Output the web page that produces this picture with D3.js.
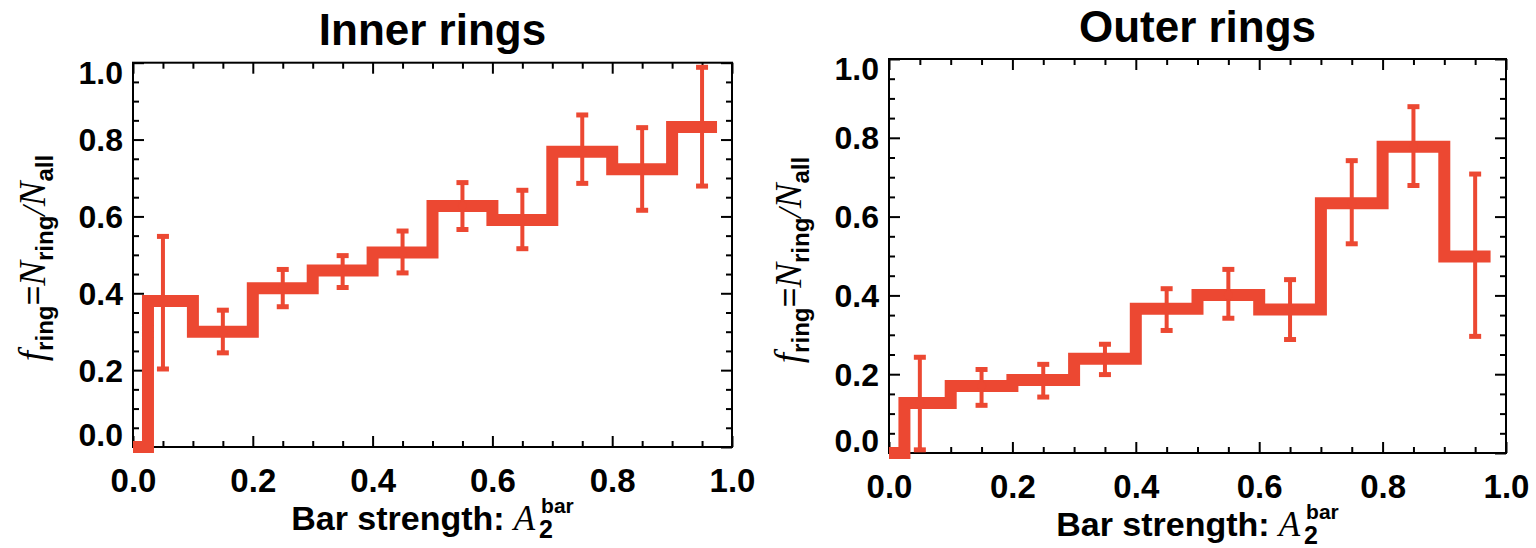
<!DOCTYPE html>
<html><head><meta charset="utf-8">
<script src="https://cdn.jsdelivr.net/npm/d3@7"></script>
<style>body{margin:0;background:#fff}</style>
</head><body>
<svg id="c" width="1536" height="548"></svg>
<script>
// ---- data ----
const stepEdges = [0, 0.025, 0.1, 0.2, 0.3, 0.4, 0.5, 0.6, 0.7, 0.8, 0.9, 0.975];
const binCenters = [0.05, 0.15, 0.25, 0.35, 0.45, 0.55, 0.65, 0.75, 0.85, 0.95];
const innerValues = [0, 0.38, 0.30, 0.413, 0.459, 0.506, 0.627, 0.591, 0.768, 0.723, 0.833];
const innerErrLow = [0.203, 0.245, 0.365, 0.415, 0.453, 0.566, 0.516, 0.686, 0.616, 0.679];
const innerErrHigh = [0.548, 0.356, 0.462, 0.498, 0.562, 0.688, 0.668, 0.864, 0.831, 0.988];
const outerValues = [0, 0.127, 0.17, 0.185, 0.239, 0.366, 0.401, 0.364, 0.634, 0.777, 0.499];
const outerErrLow = [0.008, 0.121, 0.142, 0.199, 0.311, 0.342, 0.288, 0.531, 0.679, 0.296];
const outerErrHigh = [0.243, 0.212, 0.225, 0.276, 0.417, 0.466, 0.44, 0.742, 0.879, 0.708];
const majorTicks = [0, 0.2, 0.4, 0.6, 0.8, 1.0];
const minorTicks = [0.05,0.1,0.15,0.25,0.3,0.35,0.45,0.5,0.55,0.65,0.7,0.75,0.85,0.9,0.95];
const titles = ["Inner rings", "Outer rings"];

const SANS = "'Liberation Sans', Arial, Helvetica, sans-serif";
const SERIF = "'Liberation Serif', 'Times New Roman', serif";
const RED = "#EC4832";

const svg = d3.select("#c");

const panels = [
  {title: titles[0], vals: innerValues, lo: innerErrLow, hi: innerErrHigh,
   x0: 133, x1: 732, y0: 447, y1: 62.7, titleBase: 45, xlabBase: 530, ytX: 45, ytY: 258},
  {title: titles[1], vals: outerValues, lo: outerErrLow, hi: outerErrHigh,
   x0: 889, x1: 1506, y0: 453, y1: 59, titleBase: 42, xlabBase: 536, ytX: 801, ytY: 260}
];

function styleAxis(g) {
  g.select(".domain").remove();
  g.selectAll(".tick line").attr("stroke", "#000").attr("stroke-width", 2);
}

panels.forEach(p => {
  const x = d3.scaleLinear().domain([0, 1]).range([p.x0, p.x1]);
  const y = d3.scaleLinear().domain([0, 1]).range([p.y0, p.y1]);
  const g = svg.append("g");

  // bottom
  g.append("g").attr("transform", `translate(0,${p.y0})`)
    .call(d3.axisBottom(x).tickValues(majorTicks).tickSize(-11).tickSizeOuter(0).tickPadding(22).tickFormat(d3.format(".1f")))
    .call(styleAxis)
    .call(a => a.selectAll("text").attr("font-family", SANS).attr("font-weight", "bold").attr("font-size", 33).attr("fill", "#000"));
  g.append("g").attr("transform", `translate(0,${p.y0})`)
    .call(d3.axisBottom(x).tickValues(minorTicks).tickSize(-6).tickSizeOuter(0).tickFormat(""))
    .call(styleAxis);
  // top
  g.append("g").attr("transform", `translate(0,${p.y1})`)
    .call(d3.axisTop(x).tickValues(majorTicks).tickSize(-11).tickSizeOuter(0).tickFormat(""))
    .call(styleAxis);
  g.append("g").attr("transform", `translate(0,${p.y1})`)
    .call(d3.axisTop(x).tickValues(minorTicks).tickSize(-6).tickSizeOuter(0).tickFormat(""))
    .call(styleAxis);
  // left
  g.append("g").attr("transform", `translate(${p.x0},0)`)
    .call(d3.axisLeft(y).tickValues(majorTicks).tickSize(-11).tickSizeOuter(0).tickPadding(10).tickFormat(d3.format(".1f")))
    .call(styleAxis)
    .call(a => a.selectAll("text").attr("font-family", SANS).attr("font-weight", "bold").attr("font-size", 32).attr("fill", "#000")
      .attr("dy", d => d === 1 ? "0.65em" : (d === 0 ? "-0.05em" : "0.34em")));
  g.append("g").attr("transform", `translate(${p.x0},0)`)
    .call(d3.axisLeft(y).tickValues(minorTicks).tickSize(-6).tickSizeOuter(0).tickFormat(""))
    .call(styleAxis);
  // right
  g.append("g").attr("transform", `translate(${p.x1},0)`)
    .call(d3.axisRight(y).tickValues(majorTicks).tickSize(-11).tickSizeOuter(0).tickFormat(""))
    .call(styleAxis);
  g.append("g").attr("transform", `translate(${p.x1},0)`)
    .call(d3.axisRight(y).tickValues(minorTicks).tickSize(-6).tickSizeOuter(0).tickFormat(""))
    .call(styleAxis);

  // frame
  g.append("rect").attr("x", p.x0).attr("y", p.y1).attr("width", p.x1 - p.x0).attr("height", p.y0 - p.y1)
    .attr("fill", "none").attr("stroke", "#000").attr("stroke-width", 2);

  // step histogram
  const pts = p.vals.map((v, i) => [stepEdges[i], v]);
  pts.push([stepEdges[stepEdges.length - 1], p.vals[p.vals.length - 1]]);
  const line = d3.line().x(d => x(d[0])).y(d => y(d[1])).curve(d3.curveStepAfter);
  g.append("path").attr("d", line(pts)).attr("fill", "none").attr("stroke", RED)
    .attr("stroke-width", 12).attr("stroke-linejoin", "miter").attr("stroke-linecap", "butt");

  // error bars
  const eb = g.append("g").attr("fill", RED).attr("stroke", RED);
  binCenters.forEach((c, i) => {
    const cx = x(c);
    eb.append("line").attr("x1", cx).attr("x2", cx).attr("y1", y(p.lo[i])).attr("y2", y(p.hi[i])).attr("stroke-width", 4);
    [p.lo[i], p.hi[i]].forEach(v => {
      eb.append("line").attr("x1", cx - 6).attr("x2", cx + 6).attr("y1", y(v)).attr("y2", y(v)).attr("stroke-width", 5);
    });
    eb.append("circle").attr("cx", cx).attr("cy", y(p.vals[i + 1])).attr("r", 4.5).attr("stroke", "none");
  });

  // title
  svg.append("text").attr("x", (p.x0 + p.x1) / 2).attr("y", p.titleBase).attr("text-anchor", "middle")
    .attr("font-family", SANS).attr("font-weight", "bold").attr("font-size", 44).attr("fill", "#000").text(p.title);

  // x title
  const grp = svg.append("g");
  const t = grp.append("text").attr("x", 0).attr("y", p.xlabBase).attr("fill", "#000");
  const m = t.append("tspan").attr("font-family", SANS).attr("font-weight", "bold").attr("font-size", 34).text("Bar strength:");
  const gapA = 9;
  const a = t.append("tspan").attr("font-family", SERIF).attr("font-style", "italic").attr("font-size", 35).attr("dx", gapA).text("A");
  const s = t.append("tspan").attr("font-family", SANS).attr("font-weight", "bold").attr("font-size", 25).attr("dy", 8).attr("dx", 4).text("2");
  const wm = m.node().getComputedTextLength(), wa = a.node().getComputedTextLength(), ws = s.node().getComputedTextLength();
  const sx = wm + gapA + wa + 4;
  const b = grp.append("text").attr("x", sx + 2).attr("y", p.xlabBase - 17).attr("fill", "#000")
    .attr("font-family", SANS).attr("font-weight", "bold").attr("font-size", 21).text("bar");
  const wb = b.node().getComputedTextLength();
  const total = Math.max(sx + ws, sx + 2 + wb);
  grp.attr("transform", `translate(${(p.x0 + p.x1) / 2 - total / 2},0)`);

  // y title
  const yt = svg.append("text").attr("transform", `translate(${p.ytX},${p.ytY}) rotate(-90)`)
    .attr("text-anchor", "middle").attr("fill", "#000");
  const parts = [
    {t: "f", f: SERIF, it: true, s: 37, dy: 0},
    {t: "ring", f: SANS, b: true, s: 24, dy: 8},
    {t: "=", f: SANS, s: 34, dy: -8},
    {t: "N", f: SERIF, it: true, s: 37, dy: 0},
    {t: "ring", f: SANS, b: true, s: 24, dy: 8},
    {t: "/", f: SERIF, it: true, s: 34, dy: -8},
    {t: "N", f: SERIF, it: true, s: 37, dy: 0},
    {t: "all", f: SANS, b: true, s: 24, dy: 8}
  ];
  parts.forEach(q => {
    yt.append("tspan").attr("font-family", q.f).attr("font-style", q.it ? "italic" : "normal")
      .attr("font-weight", q.b ? "bold" : "normal").attr("font-size", q.s).attr("dy", q.dy).text(q.t);
  });
});
</script>
</body></html>
